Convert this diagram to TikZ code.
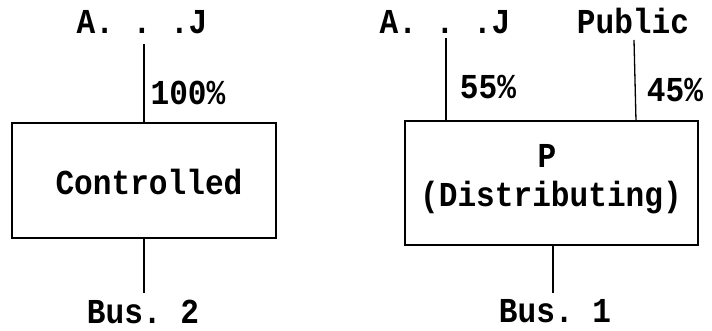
\documentclass[tikz,border=0pt]{standalone}
\usepackage{fontspec}
\setmonofont[FakeStretch=0.89]{Liberation Mono}
\begin{document}
\begin{tikzpicture}[x=1pt,y=-1pt,
  lbl/.style={font=\ttfamily\bfseries\fontsize{35}{40}\selectfont, inner sep=0pt, anchor=base},
  boxed/.style={draw, line width=1.3pt, inner sep=0pt},
  conn/.style={line width=1.3pt}]
\useasboundingbox (0,0) rectangle (712,331);
% left part
\node[boxed, minimum width=264pt, minimum height=115pt] (ctrl) at (144,180.5) {};
\node[lbl] (ctrltxt) at (149,195) {Controlled};
\node[lbl] (aj1) at (142,34) {A. . .J};
\node[lbl] (p100) at (188,105) {100\%};
\node[lbl] (bus2) at (143,323) {Bus. 2};
\coordinate (t1) at (144,44);
\coordinate (b1) at (144,293);
\draw[conn] (t1) -- (ctrl.north);
\draw[conn] (ctrl.south) -- (b1);
% right part
\node[boxed, minimum width=293pt, minimum height=124pt] (dist) at (551.5,183) {};
\node[lbl] (ptxt) at (547,168) {P};
\node[lbl] (disttxt) at (551,207) {(Distributing)};
\node[lbl] (aj2) at (445,34) {A. . .J};
\node[lbl] (pub) at (633,34) {Public};
\node[lbl] (p55) at (488,99) {55\%};
\node[lbl] (p45) at (675,102) {45\%};
\node[lbl] (bus1) at (555,322) {Bus. 1};
\coordinate (t2) at (446,38);
\coordinate (t2b) at (446,121);
\coordinate (t3) at (634,40);
\coordinate (t3b) at (636,121);
\coordinate (b2) at (553,293);
\draw[conn] (t2) -- (t2b);
\draw[conn] (t3) -- (t3b);
\draw[conn] (dist.south -| b2) -- (b2);
\end{tikzpicture}
\end{document}
